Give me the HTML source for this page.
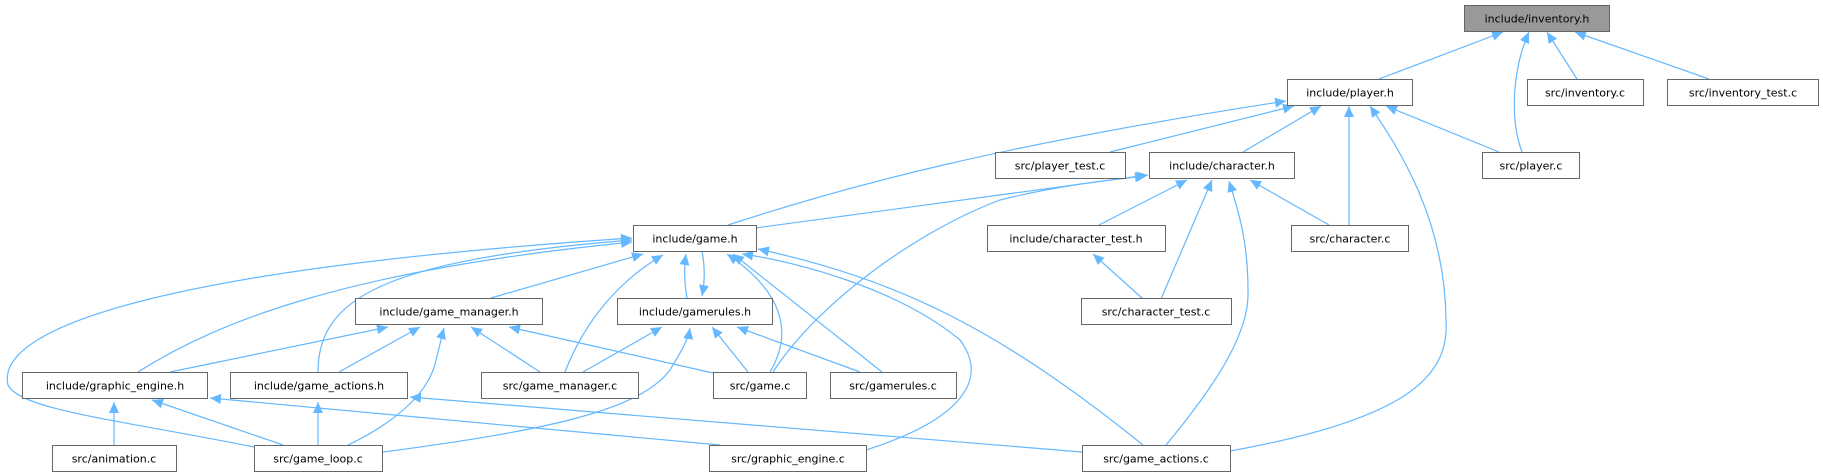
<!DOCTYPE html>
<html><head><meta charset="utf-8"><style>
html,body{margin:0;padding:0;background:#fff;}
svg{display:block;}
text{font-family:"DejaVu Sans","Liberation Sans",sans-serif;font-size:11px;fill:#000;}
.n{fill:#fff;stroke:#666;stroke-width:1;}
.e{fill:none;stroke:#63b8ff;stroke-width:1.2;marker-end:url(#a);}
</style></head><body>
<svg width="1823" height="476" viewBox="0 0 1823 476" xmlns="http://www.w3.org/2000/svg">
<defs><marker id="a" markerUnits="userSpaceOnUse" markerWidth="12" markerHeight="10" refX="11" refY="5" orient="auto"><path d="M0,0 L11,5 L0,10 z" fill="#63b8ff"/></marker></defs>
<g>
<path class="e" d="M1379,79 L1503,32"/>
<path class="e" d="M1522,152 C1510,120 1512,70 1529,32"/>
<path class="e" d="M1577,79 L1547,32"/>
<path class="e" d="M1709,79 L1575,32"/>
<path class="e" d="M728,225 C850,185 1000,145 1286,101"/>
<path class="e" d="M1110,152 L1294,106"/>
<path class="e" d="M1243,152 L1321,106"/>
<path class="e" d="M1349,225 L1349,106"/>
<path class="e" d="M1230,451 C1400,420 1450,380 1446,320 C1445,220 1400,150 1370,106"/>
<path class="e" d="M1499,152 L1386,106"/>
<path class="e" d="M755,228 L1148,175"/>
<path class="e" d="M773,372 C820,300 920,230 1000,200 C1060,185 1110,180 1146,176"/>
<path class="e" d="M1099,225 L1187,180"/>
<path class="e" d="M1161,299 L1212,180"/>
<path class="e" d="M1166,445 C1220,380 1250,330 1248,290 C1248,240 1238,210 1229,181"/>
<path class="e" d="M1329,225 L1250,180"/>
<path class="e" d="M1143,299 L1093,254"/>
<path class="e" d="M687,298 C684,280 684,268 686,254"/>
<path class="e" d="M702,251 C705,268 705,280 702,296"/>
<path class="e" d="M491,298 L643,254"/>
<path class="e" d="M565,372 C585,320 620,280 663,255"/>
<path class="e" d="M770,372 C795,330 780,290 727,254"/>
<path class="e" d="M882,372 L733,254"/>
<path class="e" d="M866,450 C960,420 990,380 960,340 C900,290 800,262 742,254"/>
<path class="e" d="M1143,445 C1000,330 900,280 758,249"/>
<path class="e" d="M138,372 C220,320 350,270 632,242"/>
<path class="e" d="M318,372 C318,300 380,260 632,240"/>
<path class="e" d="M254,447 C120,420 20,410 8,385 C-5,330 150,270 632,238"/>
<path class="e" d="M170,372 L388,327"/>
<path class="e" d="M339,372 L420,327"/>
<path class="e" d="M540,372 L471,327"/>
<path class="e" d="M713,373 L509,327"/>
<path class="e" d="M348,445 C400,420 430,390 436,360 C440,345 442,335 444,328"/>
<path class="e" d="M583,372 L662,327"/>
<path class="e" d="M748,372 L712,327"/>
<path class="e" d="M860,372 L737,327"/>
<path class="e" d="M383,452 C550,430 640,410 670,370 C682,350 688,340 690,328"/>
<path class="e" d="M114,445 L114,402"/>
<path class="e" d="M283,445 L152,400"/>
<path class="e" d="M720,445 L210,398"/>
<path class="e" d="M318,445 L318,402"/>
<path class="e" d="M1082,452 L410,397"/>
</g>
<g text-anchor="middle">
<rect x="1464.5" y="5.5" width="145" height="26" fill="#999" stroke="#666"/><text x="1537" y="22.5">include/inventory.h</text>
<rect class="n" x="1287.5" y="79.5" width="125" height="26"/><text x="1350" y="96.5">include/player.h</text>
<rect class="n" x="1527.5" y="79.5" width="116" height="26"/><text x="1585" y="96.5">src/inventory.c</text>
<rect class="n" x="1667.5" y="79.5" width="151" height="26"/><text x="1743" y="96.5">src/inventory_test.c</text>
<rect class="n" x="995.5" y="152.5" width="130" height="26"/><text x="1060" y="169.5">src/player_test.c</text>
<rect class="n" x="1149.5" y="152.5" width="145" height="26"/><text x="1222" y="169.5">include/character.h</text>
<rect class="n" x="1482.5" y="152.5" width="97" height="26"/><text x="1531" y="169.5">src/player.c</text>
<rect class="n" x="633.5" y="225.5" width="123" height="26"/><text x="695" y="242.5">include/game.h</text>
<rect class="n" x="987.5" y="225.5" width="178" height="26"/><text x="1076" y="242.5">include/character_test.h</text>
<rect class="n" x="1291.5" y="225.5" width="117" height="26"/><text x="1350" y="242.5">src/character.c</text>
<rect class="n" x="355.5" y="298.5" width="187" height="26"/><text x="449" y="315.5">include/game_manager.h</text>
<rect class="n" x="617.5" y="298.5" width="155" height="26"/><text x="695" y="315.5">include/gamerules.h</text>
<rect class="n" x="1081.5" y="298.5" width="150" height="26"/><text x="1156" y="315.5">src/character_test.c</text>
<rect class="n" x="22.5" y="372.5" width="185" height="26"/><text x="115" y="389.5">include/graphic_engine.h</text>
<rect class="n" x="230.5" y="372.5" width="177" height="26"/><text x="319" y="389.5">include/game_actions.h</text>
<rect class="n" x="481.5" y="372.5" width="157" height="26"/><text x="560" y="389.5">src/game_manager.c</text>
<rect class="n" x="713.5" y="372.5" width="93" height="26"/><text x="760" y="389.5">src/game.c</text>
<rect class="n" x="830.5" y="372.5" width="126" height="26"/><text x="893" y="389.5">src/gamerules.c</text>
<rect class="n" x="52.5" y="445.5" width="124" height="26"/><text x="114" y="462.5">src/animation.c</text>
<rect class="n" x="254.5" y="445.5" width="128" height="26"/><text x="318" y="462.5">src/game_loop.c</text>
<rect class="n" x="709.5" y="445.5" width="157" height="26"/><text x="788" y="462.5">src/graphic_engine.c</text>
<rect class="n" x="1082.5" y="445.5" width="148" height="26"/><text x="1156" y="462.5">src/game_actions.c</text>
</g>
</svg>
</body></html>
